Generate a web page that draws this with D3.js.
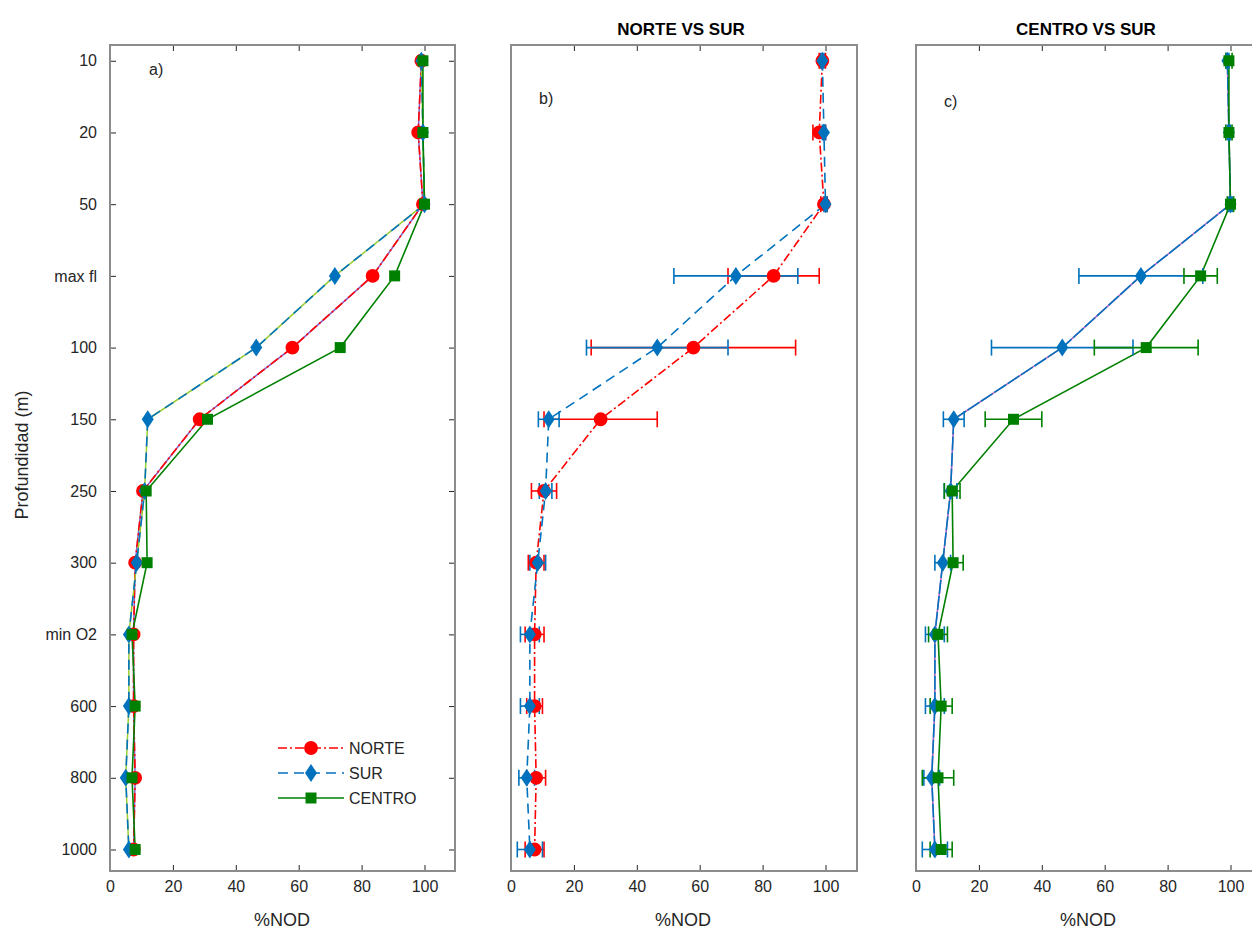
<!DOCTYPE html>
<meta charset="utf-8">
<style>
body { margin: 0; background: #fff; }
text { font-family: "Liberation Sans", Arial, sans-serif; }
.tick text { font-size: 16px; fill: #262626; }
</style>
<svg width="1252" height="935"></svg>
<script src="https://d3js.org/d3.v7.min.js"></script>
<script>

// profundidades (categorias del eje y)
var depths = ["10", "20", "50", "max fl", "100", "150", "250", "300", "min O2", "600", "800", "1000"];

// %NOD por region
var norte  = [99, 98, 99.5, 83.5, 58, 28.5, 10.5, 8, 7.5, 7.5, 8, 7.5];
var sur    = [99, 99.5, 100, 71.5, 46.5, 12, 11, 8.5, 6, 6, 5, 6];
var centro = [99.5, 99.5, 100, 90.5, 73.2, 31, 11.5, 11.8, 7, 8, 7, 8];

// desviaciones (barras de error)
var norteErr  = [1, 2, 1, 14.5, 32.5, 18, 4, 2.5, 3, 2.5, 3, 3];
var surErr    = [0.5, 0.5, 0.5, 19.7, 22.5, 3.3, 2, 2.5, 3, 3, 2.5, 4];
var centroErr = [1, 1, 1, 5.3, 16.5, 9, 2.5, 3.2, 3, 3.5, 5, 3.5];

var xTicks = [0, 20, 40, 60, 80, 100];

var svg = d3.select("svg");

var series = {
  NORTE:  {vals: norte,  err: norteErr,  color: "#ff0000", dash: "9,3,2,3", under: "#8a5cc8", marker: "circle"},
  SUR:    {vals: sur,    err: surErr,    color: "#0072bd", dash: "10,6",    under: "#9acd32", marker: "diamond"},
  CENTRO: {vals: centro, err: centroErr, color: "#008000", dash: null,      under: null,      marker: "square"}
};

var yTop = 45, yBot = 871;
var y = d3.scaleLinear().domain([0.78, 12.3]).range([yTop, yBot]);

var panels = [
  {left: 110, right: 455, names: ["NORTE", "SUR", "CENTRO"], errors: false, label: "a)", lx: 149, ly: 75, title: null, under: true, yLabels: true},
  {left: 511, right: 857, names: ["NORTE", "SUR"], errors: true, label: "b)", lx: 539, ly: 104, title: "NORTE VS SUR"},
  {left: 916, right: 1262, names: ["SUR", "CENTRO"], errors: true, label: "c)", lx: 944, ly: 107, title: "CENTRO VS SUR", underSur: "#c060c0"}
];

function markerPath(type) {
  if (type === "circle") return d3.symbol(d3.symbolCircle, 150)();
  if (type === "diamond") return "M0,-9L6,0L0,9L-6,0Z";
  return "M-5.5,-5.5L5.5,-5.5L5.5,5.5L-5.5,5.5Z";
}

panels.forEach(function(p) {
  var x = d3.scaleLinear().domain([0, (p.right - p.left) / 3.145]).range([p.left, p.right]);
  var g = svg.append("g");

  // ejes x abajo y arriba
  var xb = g.append("g").attr("transform", "translate(0," + yBot + ")")
    .call(d3.axisBottom(x).tickValues(xTicks).tickSize(-6).tickPadding(10));
  var xt = g.append("g").attr("transform", "translate(0," + yTop + ")")
    .call(d3.axisTop(x).tickValues(xTicks).tickSize(-6).tickFormat(""));
  [xb, xt].forEach(function(a) {
    a.select(".domain").remove();
    a.selectAll("line").attr("stroke", "#262626");
  });

  if (p.yLabels) {
    var yl = g.append("g").attr("transform", "translate(" + p.left + ",0)")
      .call(d3.axisLeft(y).tickValues(d3.range(1, 13)).tickFormat(function(d) { return depths[d - 1]; }).tickSize(-6).tickPadding(13));
    var yr = g.append("g").attr("transform", "translate(" + p.right + ",0)")
      .call(d3.axisRight(y).tickValues(d3.range(1, 13)).tickFormat("").tickSize(-6));
    [yl, yr].forEach(function(a) {
      a.select(".domain").remove();
      a.selectAll("line").attr("stroke", "#262626");
    });
  }

  // caja
  g.append("rect")
    .attr("x", p.left).attr("y", yTop)
    .attr("width", p.right - p.left).attr("height", yBot - yTop)
    .attr("fill", "none").attr("stroke", "#8c8c8c").attr("stroke-width", 2);

  g.append("text").attr("x", p.left + 172)
    .attr("y", 926).attr("text-anchor", "middle")
    .attr("font-size", 18).attr("fill", "#262626").text("%NOD");

  if (p.title) {
    g.append("text").attr("x", (p.left + p.right) / 2 - 3).attr("y", 35)
      .attr("text-anchor", "middle").attr("font-size", 17).attr("font-weight", "bold")
      .attr("fill", "#000").text(p.title);
  }
  g.append("text").attr("x", p.lx).attr("y", p.ly).attr("font-size", 16).attr("fill", "#262626").text(p.label);

  var line = d3.line().x(function(d) { return x(d); }).y(function(d, i) { return y(i + 1); });

  // lineas
  p.names.forEach(function(n) {
    var s = series[n];
    var under = p.under ? s.under : (n === "SUR" && p.underSur ? p.underSur : null);
    if (under) {
      g.append("path").attr("d", line(s.vals)).attr("fill", "none")
        .attr("stroke", under).attr("stroke-width", 1.5);
    }
    g.append("path").attr("d", line(s.vals)).attr("fill", "none")
      .attr("stroke", s.color).attr("stroke-width", 1.6)
      .attr("stroke-dasharray", (n === "SUR" && p.underSur) ? "14,2" : s.dash);
  });

  // barras de error
  if (p.errors) {
    p.names.forEach(function(n) {
      var s = series[n];
      var eg = g.append("g").attr("stroke", s.color).attr("stroke-width", 1.6);
      s.vals.forEach(function(v, i) {
        var yy = y(i + 1), x0 = x(v - s.err[i]), x1 = x(v + s.err[i]);
        eg.append("line").attr("x1", x0).attr("x2", x1).attr("y1", yy).attr("y2", yy);
        eg.append("line").attr("x1", x0).attr("x2", x0).attr("y1", yy - 8).attr("y2", yy + 8);
        eg.append("line").attr("x1", x1).attr("x2", x1).attr("y1", yy - 8).attr("y2", yy + 8);
      });
    });
  }

  // marcadores
  p.names.forEach(function(n) {
    var s = series[n];
    g.append("g").selectAll("path").data(s.vals).enter().append("path")
      .attr("d", markerPath(s.marker))
      .attr("transform", function(d, i) { return "translate(" + x(d) + "," + y(i + 1) + ")"; })
      .attr("fill", s.color);
  });
});

// titulo del eje y
svg.append("text").attr("transform", "translate(28,455) rotate(-90)")
  .attr("text-anchor", "middle").attr("font-size", 18).attr("fill", "#262626").text("Profundidad (m)");

// leyenda
var legNames = ["NORTE", "SUR", "CENTRO"];
var leg = svg.append("g");
legNames.forEach(function(n, i) {
  var s = series[n], ly = 748 + i * 25;
  leg.append("line").attr("x1", 278).attr("x2", 344).attr("y1", ly).attr("y2", ly)
    .attr("stroke", s.color).attr("stroke-width", 1.6).attr("stroke-dasharray", s.dash);
  leg.append("path").attr("d", markerPath(s.marker))
    .attr("transform", "translate(311," + ly + ")").attr("fill", s.color);
  leg.append("text").attr("x", 349).attr("y", ly + 6).attr("font-size", 16)
    .attr("fill", "#262626").text(n);
});

</script>
